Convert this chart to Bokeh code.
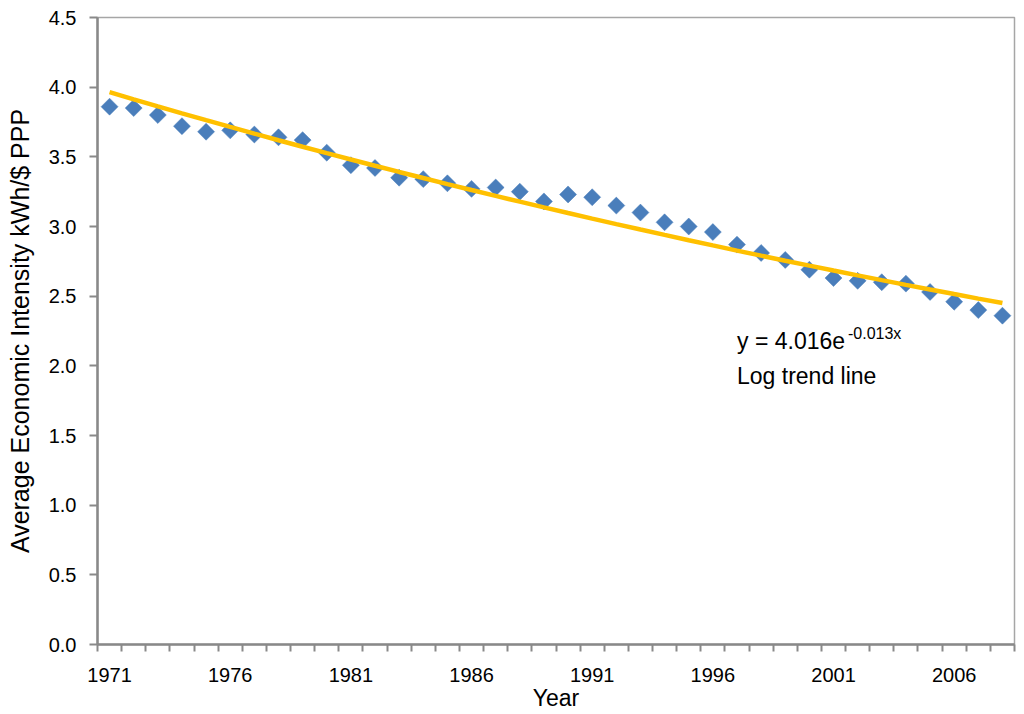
import numpy as np
from bokeh.plotting import figure
from bokeh.models import Range1d, FixedTicker, PrintfTickFormatter, Label, ColumnDataSource
from bokeh.embed import file_html
from bokeh.resources import INLINE

# ---- data ----
years = list(range(1971, 2009))
intensity = [3.86, 3.85, 3.80, 3.72, 3.68, 3.69, 3.66, 3.64, 3.62, 3.53,
             3.44, 3.42, 3.35, 3.34, 3.31, 3.27, 3.28, 3.25, 3.18, 3.23,
             3.21, 3.15, 3.10, 3.03, 3.00, 2.96, 2.87, 2.81, 2.76, 2.69,
             2.63, 2.61, 2.60, 2.59, 2.53, 2.46, 2.40, 2.36]
trend_a = 4.016
trend_b = -0.013
x_tick_years = [1971, 1976, 1981, 1986, 1991, 1996, 2001, 2006]
y_ticks = [0.0, 0.5, 1.0, 1.5, 2.0, 2.5, 3.0, 3.5, 4.0, 4.5]

trend = [trend_a * np.exp(trend_b * (i + 1)) for i in range(len(years))]
boundaries = [y - 0.5 for y in years] + [years[-1] + 0.5]

FONT = "Liberation Sans"
AXIS_GRAY = "#898989"

p = figure(width=1024, height=714, output_backend="svg", toolbar_location=None,
           x_range=Range1d(years[0] - 0.5, years[-1] + 0.5),
           y_range=Range1d(0, 4.5),
           min_border_left=97, min_border_right=10, min_border_top=17, min_border_bottom=70)
p.background_fill_color = "white"
p.border_fill_color = "white"
p.outline_line_color = "#a6a6a6"
p.outline_line_width = 1.5
p.xgrid.visible = False
p.ygrid.visible = False

src = ColumnDataSource(dict(x=years, y=intensity, t=trend))
p.scatter("x", "y", source=src, marker="square", angle=np.pi / 4, size=12,
          fill_color="#4a7ebb", line_color="#4a7ebb", line_width=0.5)
p.line("x", "t", source=src, line_color="#ffc000", line_width=4.5)

# x axis (category-like)
xa = p.xaxis[0]
xa.ticker = FixedTicker(ticks=x_tick_years, minor_ticks=boundaries)
xa.major_tick_line_color = None
xa.major_tick_out = 0
xa.major_tick_in = 0
xa.minor_tick_out = 7
xa.minor_tick_in = 0
xa.minor_tick_line_color = AXIS_GRAY
xa.minor_tick_line_width = 2
xa.axis_line_color = AXIS_GRAY
xa.axis_line_width = 2.5
xa.major_label_standoff = 16
xa.major_label_text_font = FONT
xa.major_label_text_font_size = "20px"
xa.major_label_text_color = "black"
xa.axis_label = "Year"
xa.axis_label_text_font = FONT
xa.axis_label_text_font_size = "23px"
xa.axis_label_text_font_style = "normal"
xa.axis_label_text_color = "black"
xa.axis_label_standoff = 0

ya = p.yaxis[0]
ya.ticker = FixedTicker(ticks=y_ticks, minor_ticks=[])
ya.formatter = PrintfTickFormatter(format="%.1f")
ya.major_tick_line_color = AXIS_GRAY
ya.major_tick_line_width = 2
ya.major_tick_out = 8
ya.major_tick_in = 0
ya.minor_tick_line_color = None
ya.axis_line_color = AXIS_GRAY
ya.axis_line_width = 2.5
ya.major_label_standoff = 13
ya.major_label_text_font = FONT
ya.major_label_text_font_size = "20px"
ya.major_label_text_color = "black"
ya.axis_label = "Average Economic Intensity kWh/$ PPP"
ya.axis_label_text_font = FONT
ya.axis_label_text_font_size = "25px"
ya.axis_label_text_font_style = "normal"
ya.axis_label_text_color = "black"
ya.axis_label_standoff = 12

# annotation
p.add_layout(Label(x=1997, y=2.177, text="y = 4.016e", text_font=FONT,
                   text_font_size="23px", text_color="black", text_baseline="alphabetic"))
p.add_layout(Label(x=1997, y=2.177, x_offset=111, y_offset=8, text="-0.013x", text_font=FONT,
                   text_font_size="16px", text_color="black", text_baseline="alphabetic"))
p.add_layout(Label(x=1997, y=1.93, text="Log trend line", text_font=FONT,
                   text_font_size="23px", text_color="black", text_baseline="alphabetic"))

open("out.html", "w").write(file_html(p, INLINE))
